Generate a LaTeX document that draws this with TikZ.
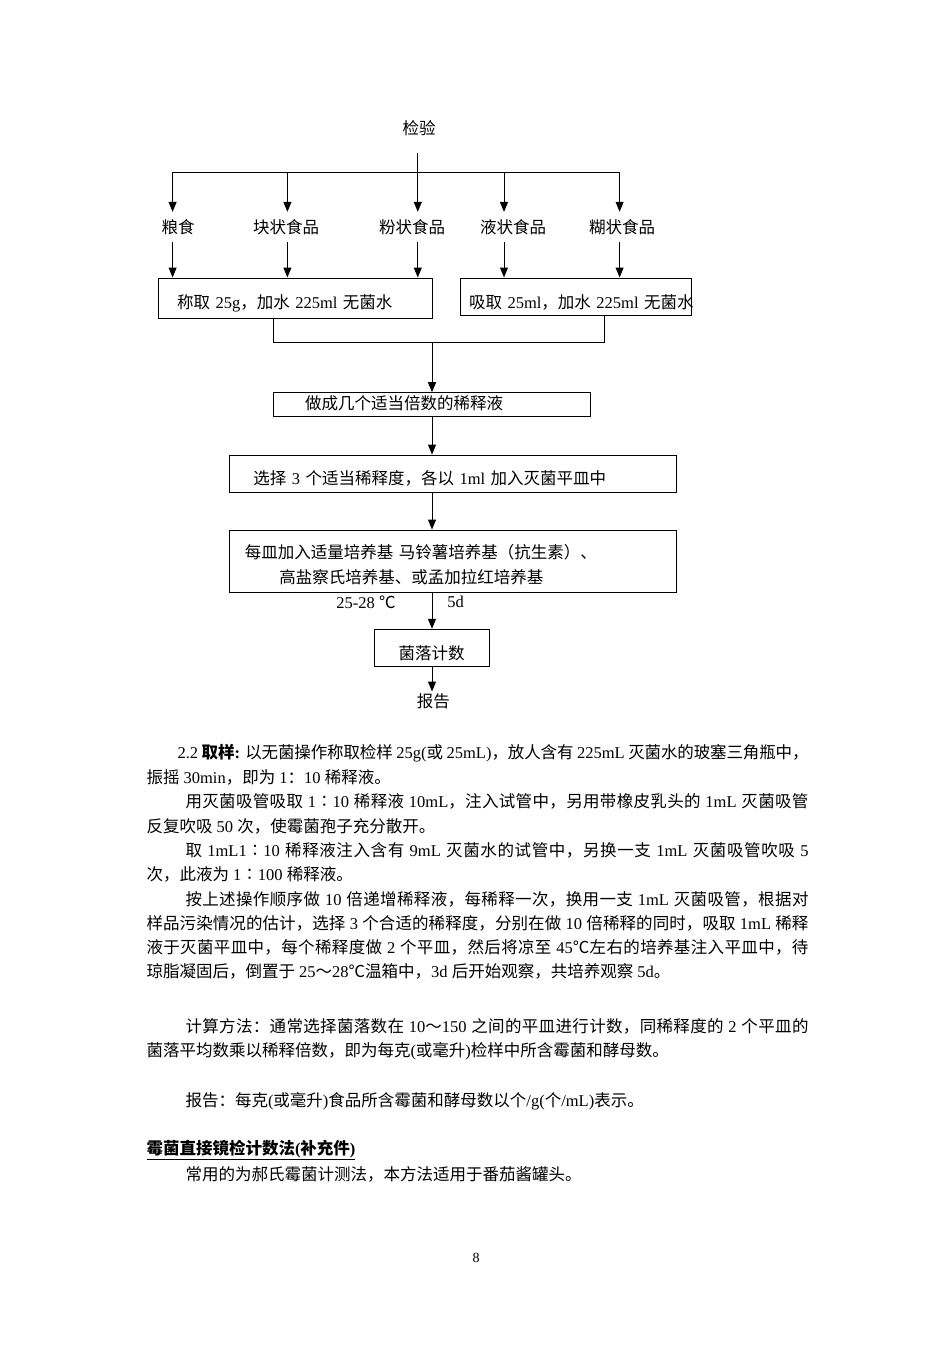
\documentclass[tikz,border=0pt]{standalone}
\usepackage{fontspec}
\setmainfont{Liberation Serif}
\newfontfamily\cjk{Noto Sans CJK SC}
\usetikzlibrary{arrows.meta}

% CJK runs switch to the CJK face
\XeTeXinterchartokenstate=1
\newXeTeXintercharclass\cjkclass
\newcount\cjkcode
\newcommand\cjkrange[2]{\cjkcode=#1\relax
  \loop\XeTeXcharclass\cjkcode=\cjkclass\relax
  \ifnum\cjkcode<#2\relax\advance\cjkcode by 1\relax\repeat}
\cjkrange{"3000}{"303F}
\cjkrange{"4E00}{"9FFF}
\cjkrange{"FF00}{"FFEF}
\XeTeXcharclass"2103=\cjkclass
\XeTeXcharclass"2236=\cjkclass
\XeTeXinterchartoks 0 \cjkclass={\cjk}
\XeTeXinterchartoks 4095 \cjkclass={\cjk}
\XeTeXinterchartoks \cjkclass 0={\rmfamily}
\XeTeXinterchartoks \cjkclass 4095={\rmfamily}
\XeTeXinterchartoks \cjkclass \cjkclass={\cjk\hskip0pt plus 1pt minus .3pt}

\newcommand\justline[2]{\hbox to #1pt{#2}}

\begin{document}
\begin{tikzpicture}[x=1pt, y=-1pt, >={Triangle[length=10pt,width=8pt]}, line width=1pt,
  font=\fontsize{16.5}{25}\selectfont,
  stepbox/.style={draw, inner ysep=2pt, align=left, text depth=4pt},
  lbl/.style={inner sep=7pt},
  txt/.style={anchor=west, inner sep=0pt}]
  \useasboundingbox (0,0) rectangle (952,1347);

  % flow chart
  \node[lbl] (test) at (419,128) {检验};
  \node[lbl] (grain) at (178,227) {粮食};
  \node[lbl] (lump) at (286,227) {块状食品};
  \node[lbl] (powder) at (412,227) {粉状食品};
  \node[lbl] (liquid) at (513,227) {液状食品};
  \node[lbl] (paste) at (622,227) {糊状食品};

  \coordinate (b1) at (172.6,172);
  \coordinate (b2) at (287.4,172);
  \coordinate (b3) at (417.8,172);
  \coordinate (b4) at (504,172);
  \coordinate (b5) at (619.6,172);

  \node[stepbox, text width=237pt, inner xsep=18.5pt, minimum height=40pt, text height=24.6pt] (wbox) at (295.5,298) {称取 25g，加水 225ml 无菌水};
  \node[stepbox, text width=214.4pt, inner xsep=8.3pt, minimum height=37pt, text height=28.6pt] (vbox) at (576.2,296.5) {\mbox{吸取 25ml，加水 225ml 无菌水}};

  \draw (b1) -- (b5);
  \draw[->, shorten <=10pt] (b3 |- test.south) -- (b3 |- powder.north);
  \foreach \b/\f in {b1/grain, b2/lump, b4/liquid, b5/paste}
    \draw[->] (\b) -- (\b |- \f.north);
  \foreach \b/\f/\t in {b1/grain/wbox, b2/lump/wbox, b3/powder/wbox, b4/liquid/vbox, b5/paste/vbox}
    \draw[->] (\b |- \f.south) -- (\b |- \t.north);

  \coordinate (ml) at (273,342);
  \coordinate (mr) at (604.8,342);
  \coordinate (axis) at (432,342);
  \draw (ml |- wbox.south) -- (ml) -- (mr) -- (mr |- vbox.south);

  \node[stepbox, text width=253.3pt, inner xsep=31.7pt, minimum height=24pt, text height=12.6pt] (dbox) at (431.7,404.7) {做成几个适当倍数的稀释液};
  \node[stepbox, text width=400.1pt, inner xsep=23.3pt, minimum height=37.3pt, text height=24.6pt] (sbox) at (453.3,473.7) {选择 3 个适当稀释度，各以 1ml 加入灭菌平皿中};
  \node[stepbox, text width=416.7pt, inner xsep=15pt, minimum height=62.3pt, text height=23.8pt, text depth=29pt] (mbox) at (453.3,561.2) {每皿加入适量培养基 马铃薯培养基（抗生素）、\\\hspace*{34.3pt}高盐察氏培养基、或孟加拉红培养基};
  \node[inner sep=0pt] (temp) at (366,602) {25-28 ℃};
  \node[inner sep=0pt] (days) at (455.5,602) {5d};
  \node[stepbox, minimum width=115.3pt, minimum height=37.4pt, text height=26pt] (cbox) at (431.7,648) {菌落计数};
  \node[lbl, inner sep=2pt] (report) at (433.3,701.7) {报告};

  \draw[->] (axis) -- (axis |- dbox.north);
  \draw[->] (axis |- dbox.south) -- (axis |- sbox.north);
  \draw[->] (axis |- sbox.south) -- (axis |- mbox.north);
  \draw[->] (axis |- mbox.south) -- (axis |- cbox.north);
  \draw[->] (axis |- cbox.south) -- (axis |- report.north);

  % text below
  \node[txt] (l1) at (177,753) {\justline{631}{2.2 {\bfseries 取样:} 以无菌操作称取检样 25g(或 25mL)，放人含有 225mL 灭菌水的玻塞三角瓶中，}};
  \node[txt] (l2) at (146,777) {振摇 30min，即为 1：10 稀释液。};
  \node[txt] (l3) at (185,801) {\justline{623}{用灭菌吸管吸取 1∶10 稀释液 10mL，注入试管中，另用带橡皮乳头的 1mL 灭菌吸管}};
  \node[txt] (l4) at (146,826) {反复吹吸 50 次，使霉菌孢子充分散开。};
  \node[txt] (l5) at (185,850) {\justline{623}{取 1mL1∶10 稀释液注入含有 9mL 灭菌水的试管中，另换一支 1mL 灭菌吸管吹吸 5}};
  \node[txt] (l6) at (146,874) {次，此液为 1∶100 稀释液。};
  \node[txt] (l7) at (185,899) {\justline{623}{按上述操作顺序做 10 倍递增稀释液，每稀释一次，换用一支 1mL 灭菌吸管，根据对}};
  \node[txt] (l8) at (146,923) {\justline{662}{样品污染情况的估计，选择 3 个合适的稀释度，分别在做 10 倍稀释的同时，吸取 1mL 稀释}};
  \node[txt] (l9) at (146,947) {\justline{662}{液于灭菌平皿中，每个稀释度做 2 个平皿，然后将凉至 45℃左右的培养基注入平皿中，待}};
  \node[txt] (l10) at (146,971) {琼脂凝固后，倒置于 25～28℃温箱中，3d 后开始观察，共培养观察 5d。};

  \node[txt] (l11) at (185,1026) {\justline{623}{计算方法：通常选择菌落数在 10～150 之间的平皿进行计数，同稀释度的 2 个平皿的}};
  \node[txt] (l12) at (146,1051) {菌落平均数乘以稀释倍数，即为每克(或毫升)检样中所含霉菌和酵母数。};
  \node[txt] (l13) at (185,1101) {报告：每克(或毫升)食品所含霉菌和酵母数以个/g(个/mL)表示。};
  \node[txt] (head) at (146,1150) {\underline{\bfseries 霉菌直接镜检计数法(补充件)}};
  \node[txt] (l14) at (185,1174) {常用的为郝氏霉菌计测法，本方法适用于番茄酱罐头。};

  \node[font=\fontsize{14}{16}\selectfont] (page) at (476,1258) {8};
\end{tikzpicture}
\end{document}
